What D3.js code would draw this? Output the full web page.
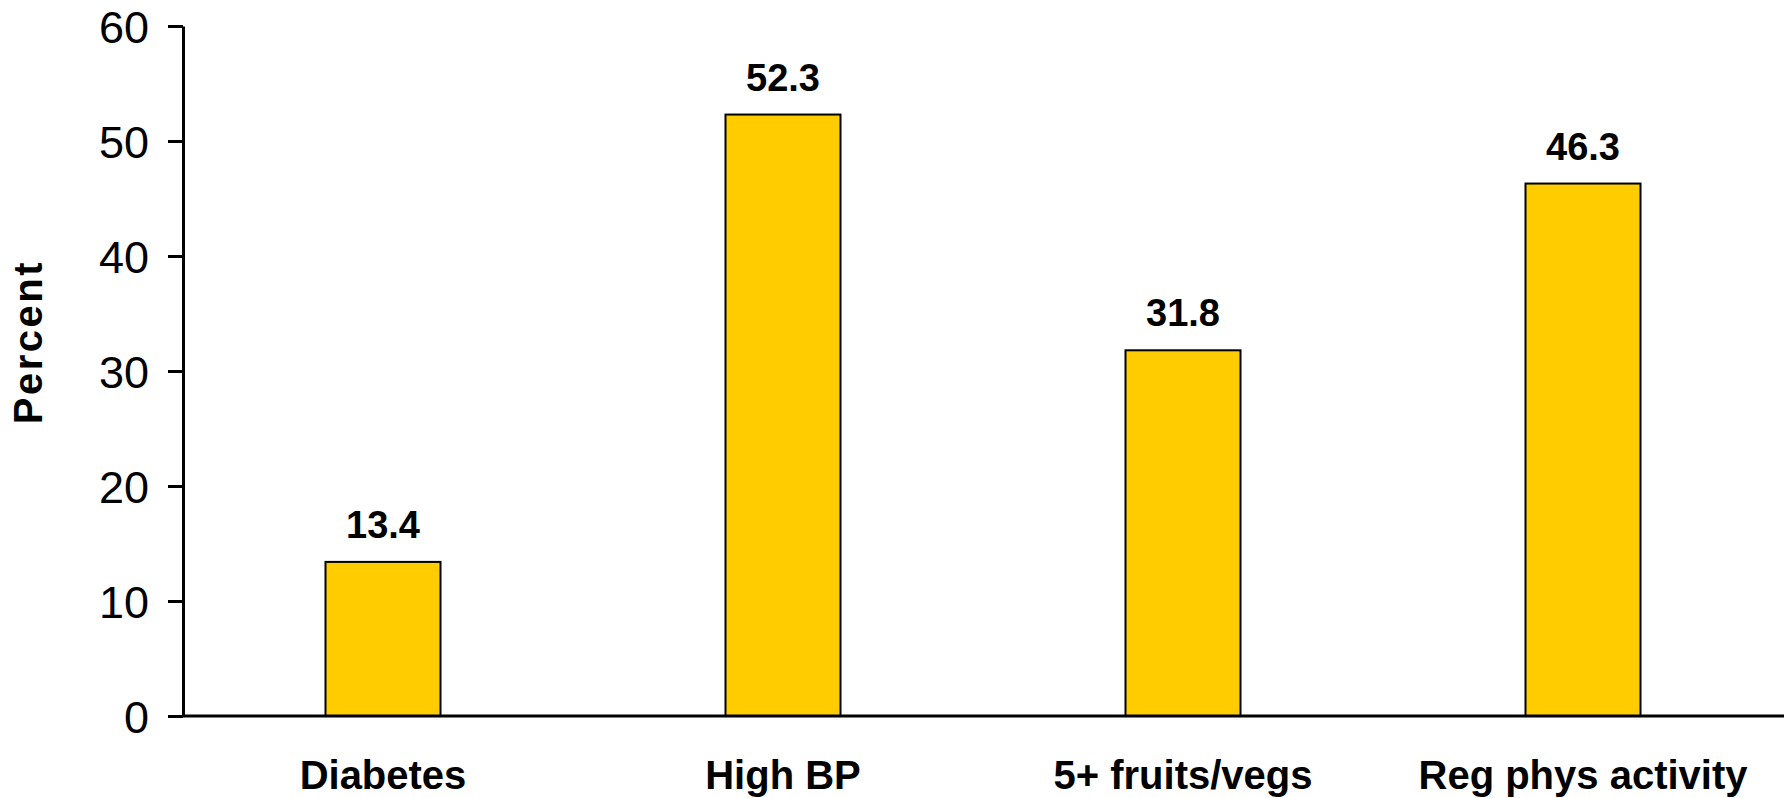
<!DOCTYPE html>
<html>
<head>
<meta charset="utf-8">
<script src="https://cdn.jsdelivr.net/npm/d3@7"></script>
<style>
  html, body { margin: 0; padding: 0; background: #ffffff; }
  svg { display: block; }
  text { font-family: "Liberation Sans", Arial, sans-serif; fill: #000; }
</style>
</head>
<body>
<svg id="chart" width="1784" height="798"></svg>
<script>
// Share of respondents for each health indicator
const categories = ["Diabetes", "High BP", "5+ fruits/vegs", "Reg phys activity"];
const percents = [13.4, 52.3, 31.8, 46.3];
const yTicks = [0, 10, 20, 30, 40, 50, 60];
const yTitle = "Percent";

const svg = d3.select("#chart");
const W = 1784;
const plotLeft = 183, plotRight = 1783, plotTop = 26, plotBottom = 716;

const x = d3.scaleBand()
  .domain(categories)
  .range([plotLeft, plotRight])
  .paddingInner(0.7125)
  .paddingOuter(0.35625);

const y = d3.scaleLinear().domain([0, 60]).range([plotBottom, plotTop]);

// Y axis
const yAxis = svg.append("g")
  .attr("transform", `translate(${plotLeft},0)`)
  .call(d3.axisLeft(y).tickValues(yTicks).tickSize(15).tickSizeOuter(0).tickPadding(19));
yAxis.select(".domain").attr("stroke", "#000").attr("stroke-width", 3);
yAxis.selectAll(".tick line").attr("stroke", "#000").attr("stroke-width", 3);
yAxis.selectAll(".tick text")
  .attr("font-size", 45)
  .attr("font-family", "Liberation Sans, Arial, sans-serif")
  .attr("fill", "#000")
  .attr("dy", "0.36em");

// Bars
svg.append("g").selectAll("rect")
  .data(categories)
  .join("rect")
  .attr("x", d => x(d))
  .attr("width", x.bandwidth())
  .attr("y", (d, i) => y(percents[i]))
  .attr("height", (d, i) => y(0) - y(percents[i]))
  .attr("fill", "#FFCC00")
  .attr("stroke", "#000")
  .attr("stroke-width", 2);

// X axis baseline and category labels
const xAxis = svg.append("g")
  .attr("transform", `translate(0,${y(0)})`)
  .call(d3.axisBottom(x).tickSize(0).tickSizeOuter(0).tickPadding(0));
xAxis.select(".domain")
  .attr("d", `M${plotLeft},0H${W}`)
  .attr("stroke", "#000")
  .attr("stroke-width", 3);
xAxis.selectAll(".tick text")
  .attr("y", 0)
  .attr("dy", 0)
  .attr("transform", "translate(0,73)")
  .attr("font-size", 40)
  .attr("font-weight", "bold")
  .attr("font-family", "Liberation Sans, Arial, sans-serif")
  .attr("fill", "#000");

// Value labels above bars
svg.append("g").selectAll("text")
  .data(categories)
  .join("text")
  .attr("x", d => x(d) + x.bandwidth() / 2)
  .attr("y", (d, i) => y(percents[i]) - 24)
  .attr("text-anchor", "middle")
  .attr("font-size", 38)
  .attr("font-weight", "bold")
  .text((d, i) => percents[i].toFixed(1));

// Y axis title
svg.append("text")
  .attr("transform", `translate(42,342) rotate(-90)`)
  .attr("text-anchor", "middle")
  .attr("font-size", 40)
  .attr("font-weight", "bold")
  .attr("letter-spacing", 2.5)
  .text(yTitle);
</script>
</body>
</html>
